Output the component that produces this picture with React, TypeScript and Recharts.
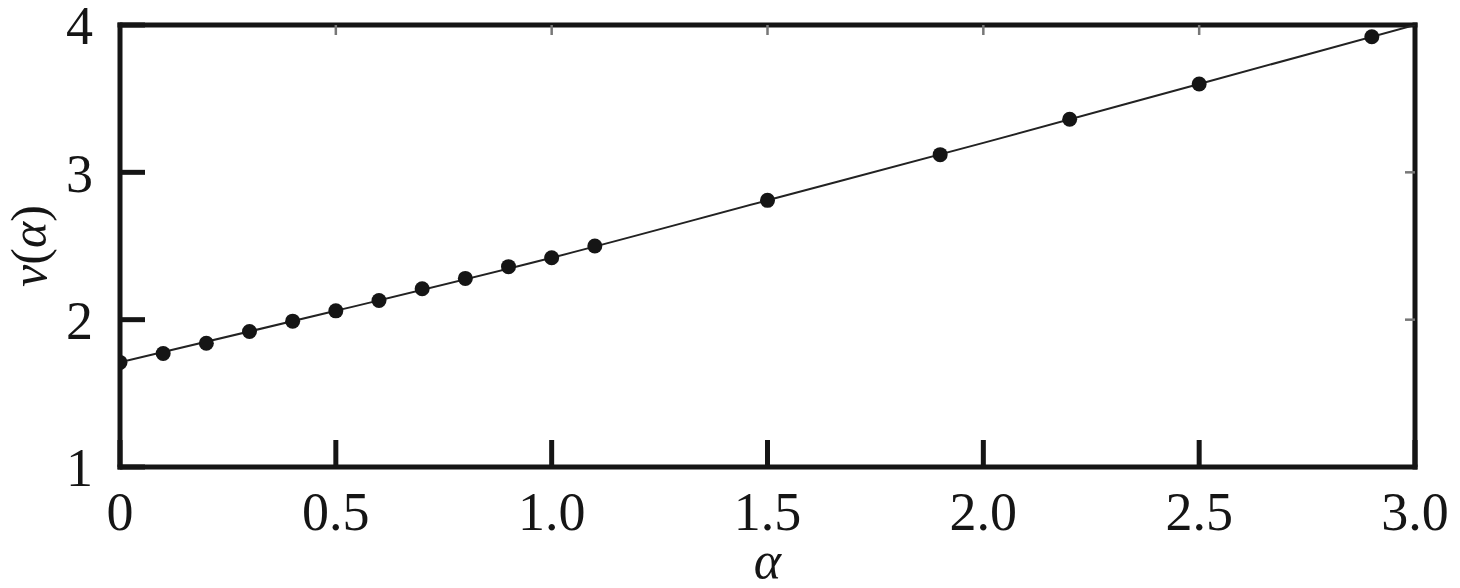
import { Scatter, ScatterChart, XAxis, YAxis, Label } from 'recharts';

// measured points
const alphaValues = [0, 0.1, 0.2, 0.3, 0.4, 0.5, 0.6, 0.7, 0.8, 0.9, 1.0, 1.1, 1.5, 1.9, 2.2, 2.5, 2.9];
const nuValues = [1.71, 1.77, 1.84, 1.92, 1.99, 2.06, 2.13, 2.21, 2.28, 2.36, 2.42, 2.5, 2.81, 3.12, 3.36, 3.6, 3.92];

// fitted curve
const fitAlpha = [0, 0.5, 1.0, 1.5, 2.0, 2.5, 3.0];
const fitNu = [1.71, 2.06, 2.42, 2.81, 3.2, 3.6, 4.0];

const xTicks = [0, 0.5, 1.0, 1.5, 2.0, 2.5, 3.0];
const xTickLabels = ['0', '0.5', '1.0', '1.5', '2.0', '2.5', '3.0'];
const yTicks = [1, 2, 3, 4];
const topTicks = [0.5, 1.0, 1.5, 2.0, 2.5];
const rightTicks = [2, 3];

const points = alphaValues.map((a, i) => ({ a, v: nuValues[i] }));
const fit = fitAlpha.map((a, i) => ({ a, v: fitNu[i] }));

const ink = '#151515';
const font = '"Liberation Serif", "Times New Roman", serif';
const tickFont = { fontFamily: font, fontSize: 54, fill: ink };

export default function App() {
  return (
    <div style={{ position: 'absolute', left: 0, top: 0, width: 1460, height: 588, background: '#fff' }}>
      <ScatterChart width={1460} height={588} margin={{ top: 20, right: 40, bottom: 61, left: 20 }}>
        <XAxis
          xAxisId="b"
          type="number"
          dataKey="a"
          domain={[0, 3]}
          ticks={xTicks}
          tickFormatter={(v) => xTickLabels[xTicks.indexOf(v)] ?? String(v)}
          height={60}
          allowDataOverflow
          axisLine={{ stroke: ink, strokeWidth: 5, strokeLinecap: 'square' }}
          tickLine={{ stroke: ink, strokeWidth: 5 }}
          tickSize={-27}
          tickMargin={52}
          tick={tickFont}
          interval={0}
        >
          <Label
            content={({ viewBox }: any) => (
              <text
                x={viewBox.x + viewBox.width / 2}
                y={578}
                textAnchor="middle"
                fontFamily={font}
                fontStyle="italic"
                fontSize={52}
                fill={ink}
              >
                α
              </text>
            )}
          />
        </XAxis>
        <XAxis
          xAxisId="t"
          orientation="top"
          type="number"
          dataKey="a"
          domain={[0, 3]}
          ticks={topTicks}
          tickFormatter={() => ''}
          height={5}
          allowDataOverflow
          axisLine={{ stroke: ink, strokeWidth: 5, strokeLinecap: 'square' }}
          tickLine={{ stroke: '#777', strokeWidth: 2.5 }}
          tickSize={-10}
          interval={0}
        />
        <YAxis
          yAxisId="l"
          type="number"
          dataKey="v"
          domain={[1, 4]}
          ticks={yTicks}
          width={100}
          allowDataOverflow
          axisLine={{ stroke: ink, strokeWidth: 5, strokeLinecap: 'square' }}
          tickLine={{ stroke: ink, strokeWidth: 5 }}
          tickSize={-25}
          tickMargin={52}
          tick={tickFont}
          interval={0}
        >
          <Label
            content={() => (
              <text
                x={0}
                y={0}
                transform="translate(46 246) rotate(-90)"
                textAnchor="middle"
                fontFamily={font}
                fontSize={50}
                fill={ink}
              >
                <tspan fontStyle="italic">v</tspan>
                <tspan>(</tspan>
                <tspan fontStyle="italic">α</tspan>
                <tspan>)</tspan>
              </text>
            )}
          />
        </YAxis>
        <YAxis
          yAxisId="r"
          orientation="right"
          type="number"
          dataKey="v"
          domain={[1, 4]}
          ticks={rightTicks}
          tickFormatter={() => ''}
          width={5}
          allowDataOverflow
          axisLine={{ stroke: ink, strokeWidth: 5, strokeLinecap: 'square' }}
          tickLine={{ stroke: '#777', strokeWidth: 2.5 }}
          tickSize={-10}
          interval={0}
        />
        <Scatter
          xAxisId="b"
          yAxisId="l"
          data={fit}
          line={{ stroke: '#222', strokeWidth: 2 }}
          lineJointType="monotoneX"
          shape={() => <g />}
          isAnimationActive={false}
        />
        <Scatter
          xAxisId="b"
          yAxisId="l"
          data={points}
          fill={ink}
          shape={(p: any) => <circle cx={p.cx} cy={p.cy} r={7.5} fill={ink} />}
          isAnimationActive={false}
        />
      </ScatterChart>
    </div>
  );
}
